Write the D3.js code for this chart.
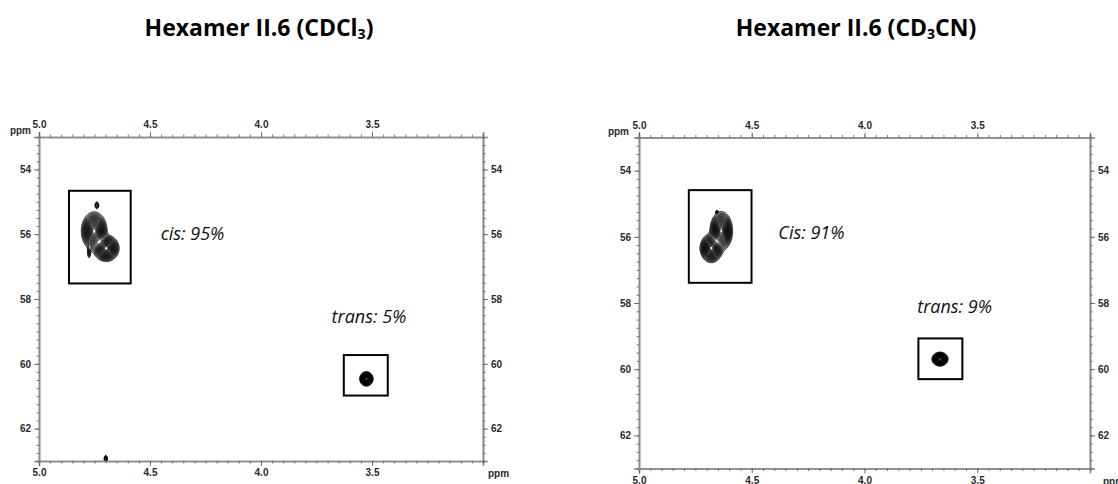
<!DOCTYPE html>
<html><head><meta charset="utf-8">
<script src="https://cdn.jsdelivr.net/npm/d3@7"></script>
<style>
html,body{margin:0;padding:0;background:#fff;}
svg{display:block;}
</style></head>
<body>
<svg id="chart" width="1118" height="484"></svg>
<script>
// ---------- data ----------
const panelTitles = ["Hexamer II.6 (CDCl", "Hexamer II.6 (CD"];
const titleSubs = ["3", "3"];
const titleTails = [")", "CN)"];
const xDomain = [5.0, 3.0];           // 1H ppm
const yDomain = [53, 63];             // 13C ppm
const xMajorTicks = [5.0, 4.5, 4.0, 3.5];
const yMajorTicks = [54, 56, 58, 60, 62];
const xMinorStep = 0.05;
const yMinorStep = 0.25;
const contourLevels = [0.03, 0.045, 0.06, 0.08, 0.1, 0.125, 0.15, 0.18, 0.21, 0.25, 0.29, 0.33, 0.38, 0.43, 0.48, 0.54, 0.6, 0.66, 0.72, 0.78, 0.84, 0.9, 0.95];

// peaks: [cx(ppm 1H), cy(ppm 13C), sx, sy, height]
const peaksCDCl3 = [
  [4.752, 55.90, 0.022, 0.225, 1.0],
  [4.698, 56.43, 0.022, 0.155, 1.0],
  [4.740, 55.10, 0.005, 0.060, 0.12],
  [4.775, 56.55, 0.004, 0.110, 0.10],
  [3.526, 60.46, 0.0115, 0.085, 1.0],
  [4.700, 62.93, 0.004, 0.060, 0.15]
];
const peaksCD3CN = [
  [4.636, 55.82, 0.019, 0.222, 1.0],
  [4.680, 56.34, 0.019, 0.165, 1.0],
  [4.655, 55.25, 0.003, 0.030, 0.10],
  [3.666, 59.69, 0.0136, 0.080, 1.0]
];
// boxes: [x1, x2, y1, y2] in ppm
const boxesCDCl3 = [[4.865, 4.587, 54.66, 57.52], [3.627, 3.429, 59.73, 60.98]];
const boxesCD3CN = [[4.779, 4.501, 54.59, 57.39], [3.761, 3.566, 59.07, 60.30]];
// labels: [text, x ppm, y ppm]
const labelsCDCl3 = [["cis: 95%", 4.452, 56.18], ["trans: 5%", 3.682, 58.74]];
const labelsCD3CN = [["Cis: 91%", 4.382, 56.07], ["trans: 9%", 3.766, 58.30]];

// ---------- layout ----------
const panels = [
  {x0: 39, x1: 483, y0: 137, y1: 461, titleX: 259, peaks: peaksCDCl3, boxes: boxesCDCl3, labels: labelsCDCl3, bottomLabelY: 477, ppmTopGap: 8, ppmBottomGap: 5},
  {x0: 639, x1: 1090, y0: 137.5, y1: 468.5, titleX: 856, peaks: peaksCD3CN, boxes: boxesCD3CN, labels: labelsCD3CN, bottomLabelY: 485, ppmTopGap: 10, ppmBottomGap: 13}
];

const svg = d3.select("#chart");
const axisColor = "#8a8a8a";
const labelColor = "#2a2a2a";
const tickFont = "bold 10px 'Liberation Sans', Arial, sans-serif";

function range(a, b, step) {
  const out = [];
  const n = Math.round((b - a) / step);
  for (let i = 0; i <= n; i++) out.push(+(a + i * step).toFixed(4));
  return out;
}

panels.forEach((p, pi) => {
  const x = d3.scaleLinear().domain(xDomain).range([p.x0, p.x1]);
  const y = d3.scaleLinear().domain(yDomain).range([p.y0, p.y1]);
  const g = svg.append("g");

  // title
  const t = g.append("text")
    .attr("x", p.titleX).attr("y", 36)
    .attr("text-anchor", "middle")
    .style("font", "bold 23px 'Open Sans', sans-serif")
    .attr("fill", "#000");
  t.append("tspan").text(panelTitles[pi]);
  t.append("tspan").text(titleSubs[pi]).style("font-size", "14px").attr("dy", 3);
  t.append("tspan").text(titleTails[pi]).attr("dy", -3);

  // clip
  const clipId = "clip" + pi;
  svg.append("clipPath").attr("id", clipId).append("rect")
    .attr("x", p.x0).attr("y", p.y0).attr("width", p.x1 - p.x0).attr("height", p.y1 - p.y0);

  // contours
  const sc = 3; // grid cells per pixel
  const nx = Math.ceil((p.x1 - p.x0) * sc), ny = Math.ceil((p.y1 - p.y0) * sc);
  const values = new Float64Array(nx * ny);
  for (let j = 0; j < ny; j++) {
    const yv = y.invert(p.y0 + j / sc);
    for (let i = 0; i < nx; i++) {
      const xv = x.invert(p.x0 + i / sc);
      let v = 0;
      for (const [cx, cy, sx, sy, h] of p.peaks) {
        const dx = (xv - cx) / sx, dy = (yv - cy) / sy;
        const e = dx * dx + dy * dy;
        if (e < 40) v += h * Math.exp(-0.5 * e);
      }
      values[j * nx + i] = v;
    }
  }
  const contours = d3.contours().size([nx, ny]).thresholds(contourLevels)(values);
  const proj = d3.geoTransform({
    point: function(px, py) { this.stream.point(p.x0 + px / sc, p.y0 + py / sc); }
  });
  const path = d3.geoPath(proj);
  g.append("g").attr("clip-path", `url(#${clipId})`)
    .selectAll("path").data(contours).join("path")
    .attr("d", path)
    .attr("fill", "none")
    .attr("stroke", "#000")
    .attr("stroke-width", 0.9);

  // boxes
  g.selectAll("rect.box").data(p.boxes).join("rect")
    .attr("class", "box")
    .attr("x", d => x(d[0])).attr("y", d => y(d[2]))
    .attr("width", d => x(d[1]) - x(d[0]))
    .attr("height", d => y(d[3]) - y(d[2]))
    .attr("fill", "none").attr("stroke", "#000").attr("stroke-width", 2);

  // labels
  g.selectAll("text.lab").data(p.labels).join("text")
    .attr("class", "lab")
    .attr("x", d => x(d[1])).attr("y", d => y(d[2]))
    .style("font", "italic 18px 'Open Sans', sans-serif")
    .attr("fill", "#111")
    .text(d => d[0]);

  // axes
  const xMinor = range(3.0, 5.0, xMinorStep);
  const yMinor = range(53, 63, yMinorStep);
  const top = d3.axisTop(x).tickValues(xMajorTicks).tickFormat(d3.format(".1f")).tickSize(5).tickPadding(4);
  const topMinor = d3.axisTop(x).tickValues(xMinor).tickFormat("").tickSize(2.5);
  const bottom = d3.axisBottom(x).tickValues(xMajorTicks).tickFormat(d3.format(".1f")).tickSize(5).tickPadding(p.bottomLabelY - p.y1 - 13);
  const bottomMinor = d3.axisBottom(x).tickValues(xMinor).tickFormat("").tickSize(2.5);
  const left = d3.axisLeft(y).tickValues(yMajorTicks).tickFormat(d3.format("d")).tickSize(5).tickPadding(3);
  const leftMinor = d3.axisLeft(y).tickValues(yMinor).tickFormat("").tickSize(2.5);
  const right = d3.axisRight(y).tickValues(yMajorTicks).tickFormat(d3.format("d")).tickSize(5).tickPadding(3);
  const rightMinor = d3.axisRight(y).tickValues(yMinor).tickFormat("").tickSize(2.5);

  const axes = [
    [top, p.y0, "t"], [topMinor, p.y0, "t"], [bottom, p.y1, "t"], [bottomMinor, p.y1, "t"],
    [left, p.x0, "l"], [leftMinor, p.x0, "l"], [right, p.x1, "l"], [rightMinor, p.x1, "l"]
  ];
  axes.forEach(([ax, pos, kind]) => {
    const ag = g.append("g")
      .attr("transform", kind === "t" ? `translate(0,${pos})` : `translate(${pos},0)`)
      .call(ax);
    ag.select(".domain").attr("stroke", axisColor).attr("stroke-width", 1.6);
    ag.selectAll(".tick line").attr("stroke", "#555").attr("stroke-width", 0.8);
    ag.selectAll("text").style("font", tickFont).attr("fill", labelColor);
  });

  // ppm unit labels
  g.append("text").attr("x", p.x0 - p.ppmTopGap).attr("y", p.y0 - 3)
    .attr("text-anchor", "end").style("font", tickFont).attr("fill", labelColor).text("ppm");
  g.append("text").attr("x", p.x1 + p.ppmBottomGap).attr("y", p.bottomLabelY)
    .attr("text-anchor", "start").style("font", tickFont).attr("fill", labelColor).text("ppm");
});
</script>
</body></html>
